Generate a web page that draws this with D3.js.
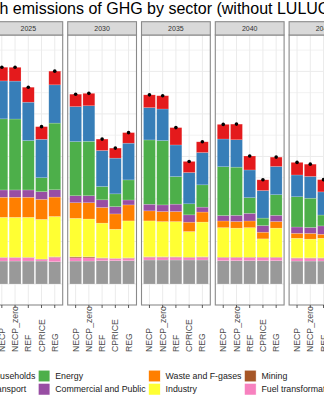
<!DOCTYPE html>
<html>
<head>
<meta charset="utf-8">
<script src="https://cdn.jsdelivr.net/npm/d3@7"></script>
<style>
  body { margin: 0; background: #fff; }
  svg { display: block; font-family: "Liberation Sans", Arial, sans-serif; }
</style>
</head>
<body>
<div id="chart"></div>
<script>
const years = ["2025", "2030", "2035", "2040", "2045"];
const scenarios = ["NECP", "NECP_zero", "REF", "CPRICE", "REG"];
const sectors = ["Households", "Transport", "Energy", "Commercial and Public", "Waste and F-gases",
                 "Industry", "Mining", "Fuel transformation", "Agriculture"];
const sectorColors = ["#E41A1C", "#377EB8", "#4DAF4A", "#984EA3", "#FF7F00",
                      "#FFFF33", "#A65628", "#F781BF", "#999999"];

// Mt CO2eq, year by year, scenarios in the order above (2045: first three only)
const households         = [8.05, 8.1, 8.8, 7.4, 8.05,  7.3, 7.3, 6.7, 5.9, 6.2,   7.5, 7.8, 10.2, 6.5, 6.3,   8.6, 9.2, 8.2, 6.3, 5.5,   7.4, 7.2, 7.2];
const transport          = [22.3, 22.3, 22.6, 22.6, 22.5, 20.6, 20.9, 21.2, 21.0, 21.6, 19.0, 18.6, 18.6, 18.4, 19.0, 16.3, 16.1, 16.3, 16.2, 16.6, 12.8, 12.8, 13.6];
const energy             = [41.8, 41.7, 29.0, 8.2, 39.2,  31.8, 32.0, 7.8, 7.5, 11.8,  37.8, 37.8, 16.2, 6.5, 13.1,  28.7, 28.3, 9.2, 4.4, 12.1,  17.8, 17.2, 6.4];
const commercial         = [4.3, 4.3, 4.3, 4.5, 4.3,   4.1, 4.1, 4.5, 4.3, 2.9,   3.9, 3.9, 4.35, 4.3, 2.9,   3.2, 3.65, 4.5, 3.9, 3.65,   3.7, 3.5, 4.9];
const waste              = [11.8, 11.8, 11.8, 11.8, 11.4, 9.2, 9.6, 9.2, 9.0, 9.4,  5.9, 5.9, 5.9, 5.5, 5.9,   3.9, 3.9, 3.9, 3.9, 3.9,   2.9, 3.35, 2.35];
const industry           = [23.5, 23.5, 23.5, 23.3, 23.7, 22.6, 22.2, 20.4, 17.1, 21.7, 21.1, 20.7, 20.7, 15.1, 20.4, 17.4, 17.1, 17.4, 10.8, 17.1, 11.5, 11.0, 11.5];
const mining             = [0.3, 0.3, 0.3, 0.2, 0.3,   0.6, 0.6, 0.3, 0.2, 0.3,   0.3, 0.3, 0.3, 0.3, 0.3,   0.3, 0.3, 0.3, 0.3, 0.3,   0.3, 0.3, 0.3];
const fuelTransformation = [1.9, 1.9, 1.9, 1.0, 2.6,   1.9, 1.9, 1.4, 1.2, 1.4,   1.6, 1.6, 1.6, 1.35, 1.6,   1.75, 1.75, 1.75, 1.75, 1.75, 1.6, 1.6, 1.6];
const agriculture        = [13.5, 13.5, 13.5, 13.5, 13.1, 13.5, 13.5, 13.7, 13.7, 13.7, 14.1, 14.1, 14.1, 14.1, 14.1, 13.7, 13.7, 13.7, 13.7, 13.7, 13.5, 13.5, 13.5];

const series = [households, transport, energy, commercial, waste, industry, mining, fuelTransformation, agriculture];

// one row per bar
const rows = [];
years.forEach((year, i) => {
  scenarios.forEach((scenario, j) => {
    const k = i * scenarios.length + j;
    if (k >= households.length) return;
    const row = { year, scenario };
    sectors.forEach((s, m) => { row[s] = series[m][k]; });
    row.total = d3.sum(sectors, s => row[s]);
    rows.push(row);
  });
});

const width = 324, height = 400;
const panelTop = 35, panelBottom = 305, stripTop = 21.7;

const svg = d3.select("#chart").append("svg")
  .attr("width", width)
  .attr("height", height);

const color = d3.scaleOrdinal().domain(sectors).range(sectorColors);

// facets
const panelX = d3.scaleBand().domain(years).range([-6.1, 357.9]).paddingInner(0.0678);
const x = d3.scaleBand().domain(scenarios).range([0, panelX.bandwidth()])
  .paddingInner(0.1).paddingOuter(0.15);
const y = d3.scaleLinear().domain([-12.35, 146.4]).range([panelBottom, panelTop]);

const stack = d3.stack().keys(sectors.slice().reverse());

years.forEach(year => {
  const data = rows.filter(d => d.year === year);
  const g = svg.append("g").attr("transform", `translate(${panelX(year)},0)`);
  const pw = panelX.bandwidth();

  g.append("rect")
    .attr("x", 0).attr("y", panelTop)
    .attr("width", pw).attr("height", panelBottom - panelTop)
    .attr("fill", "#fff");

  // grid: minor then major
  const minor = d3.range(12.5, 146, 25);
  const major = d3.range(0, 146, 25);
  g.selectAll(".minor").data(minor).enter().append("line")
    .attr("x1", 0).attr("x2", pw)
    .attr("y1", d => y(d)).attr("y2", d => y(d))
    .attr("stroke", "#EFEFEF").attr("stroke-width", 0.8);
  g.selectAll(".major").data(major).enter().append("line")
    .attr("x1", 0).attr("x2", pw)
    .attr("y1", d => y(d)).attr("y2", d => y(d))
    .attr("stroke", "#EBEBEB").attr("stroke-width", 1);
  g.selectAll(".vgrid").data(scenarios).enter().append("line")
    .attr("x1", d => x(d) + x.bandwidth() / 2).attr("x2", d => x(d) + x.bandwidth() / 2)
    .attr("y1", panelTop).attr("y2", panelBottom)
    .attr("stroke", "#EBEBEB").attr("stroke-width", 1);

  // stacked bars
  const layers = stack(data);
  g.selectAll(".layer").data(layers).enter().append("g")
    .attr("fill", d => color(d.key))
    .selectAll("rect").data(d => d).enter().append("rect")
      .attr("x", d => x(d.data.scenario))
      .attr("width", x.bandwidth())
      .attr("y", d => y(d[1]))
      .attr("height", d => y(d[0]) - y(d[1]))
      .attr("stroke", "#fff")
      .attr("stroke-opacity", 0.35)
      .attr("stroke-width", 0.5);

  // totals
  g.selectAll(".dot").data(data).enter().append("circle")
    .attr("cx", d => x(d.scenario) + x.bandwidth() / 2)
    .attr("cy", d => y(d.total))
    .attr("r", 1.8)
    .attr("fill", "#000");

  g.append("rect")
    .attr("x", 0).attr("y", panelTop)
    .attr("width", pw).attr("height", panelBottom - panelTop)
    .attr("fill", "none").attr("stroke", "#8a8a8a").attr("stroke-width", 1.1);

  // strip
  g.append("rect")
    .attr("x", 0).attr("y", stripTop)
    .attr("width", pw).attr("height", panelTop - stripTop)
    .attr("fill", "#D9D9D9").attr("stroke", "#8a8a8a").attr("stroke-width", 1.1);
  g.append("text")
    .attr("x", pw / 2).attr("y", (stripTop + panelTop) / 2)
    .attr("text-anchor", "middle").attr("dominant-baseline", "central")
    .attr("font-size", 7).attr("fill", "#333")
    .text(year);

  // x axis
  const axis = g.append("g").attr("transform", `translate(0,${panelBottom})`)
    .call(d3.axisBottom(x).tickSize(3).tickSizeOuter(0).tickPadding(0));
  axis.select(".domain").remove();
  axis.selectAll(".tick line").attr("stroke", "#333").attr("stroke-width", 0.8);
  axis.selectAll(".tick text")
    .attr("transform", "rotate(-90)")
    .attr("x", -47).attr("y", 0).attr("dy", "0.35em")
    .attr("text-anchor", "start")
    .attr("font-family", "Liberation Sans, Arial, sans-serif")
    .attr("font-size", 8.7).attr("fill", "#4D4D4D");
});

// title, anchored at the plot's left edge
const title = svg.append("text")
  .attr("y", 13.5)
  .attr("font-size", 16)
  .attr("fill", "#000")
  .text("Czech emissions of GHG by sector (without LULUCF)");
title.attr("x", -title.node().getSubStringLength(0, 4) - 0.5);

// legend: 2 rows, filled by column
const keySize = 11.6, rowY = [370.2, 383.4], labelGap = 5.3, colGap = 3;
const legend = svg.append("g").attr("font-size", 8.8).attr("fill", "#1a1a1a");
const measure = svg.append("text").attr("font-size", 8.8);
const textW = s => measure.text(s).node().getComputedTextLength();
const cols = d3.range(Math.ceil(sectors.length / 2)).map(c => sectors.slice(c * 2, c * 2 + 2));
const colW = cols.map(c => d3.max(c, textW));
measure.remove();

let cx = 38.3 - colGap - colW[0] - labelGap - keySize;
cols.forEach((col, c) => {
  col.forEach((s, r) => {
    legend.append("rect")
      .attr("x", cx).attr("y", rowY[r])
      .attr("width", keySize).attr("height", keySize)
      .attr("fill", color(s)).attr("stroke", "#fff").attr("stroke-width", 0.5);
    legend.append("text")
      .attr("x", cx + keySize + labelGap).attr("y", rowY[r] + keySize / 2)
      .attr("dy", "0.35em")
      .text(s);
  });
  cx += keySize + labelGap + colW[c] + colGap;
});
</script>
</body>
</html>
